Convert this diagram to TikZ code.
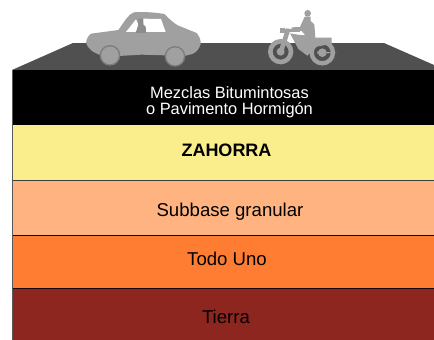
\documentclass[tikz,border=0pt]{standalone}
\usepackage{fontspec}
\setmainfont{Liberation Sans}
\definecolor{roadc}{HTML}{505050}
\definecolor{figc}{HTML}{A0A0A0}
\definecolor{figd}{HTML}{8C8C8C}
\definecolor{yel}{HTML}{FAEE8C}
\definecolor{peach}{HTML}{FFB380}
\definecolor{oran}{HTML}{FF7D33}
\definecolor{brwn}{HTML}{8C261E}
\tikzset{
 lab/.style={font=\fontsize{18.6}{18.6}\selectfont,text=black,align=center,inner sep=0pt,anchor=base},
}
\begin{document}
\begin{tikzpicture}[x=1pt,y=-1pt]
\useasboundingbox (0,0) rectangle (434,340);
\fill[white] (0,0) rectangle (434,340);
\fill[roadc] (12,70) -- (73,43) -- (384,43) -- (434,65) -- (434,70) -- cycle;
% layers
\fill[black] (12,70) rectangle (434,125);
\fill[yel] (12,125) rectangle (434,180);
\fill[peach] (12,180) rectangle (434,235.5);
\fill[oran] (12,235.5) rectangle (434,288.5);
\fill[brwn] (12,288.5) rectangle (434,340);
\draw[line width=0.7pt,black!75] (12,180) -- (434,180);
\draw[line width=0.7pt,black] (12,235.5) -- (434,235.5);
\draw[line width=0.7pt,black!85!brwn] (12,288.5) -- (434,288.5);
\draw[line width=0.7pt,black!65] (12,70) -- (12,340);
% labels
\node[lab,text=white,font=\fontsize{16.4}{16}\selectfont,anchor=center] (asfalto) at (229.5,102) {Mezclas Bitumintosas\\o Pavimento Hormigón};
\node[lab,font=\fontsize{18}{18}\selectfont\bfseries] (zahorra) at (226.5,156.7) {ZAHORRA};
\node[lab] (subbase) at (230,216) {Subbase granular};
\node[lab] (todouno) at (227,265) {Todo Uno};
\node[lab] (tierra) at (226,323.3) {Tierra};
% car
\begin{scope}[shift={(85,8)},scale=1/3]
\fill[figc] (3,104) .. controls (5,92) and (9,84) .. (18,77)
 -- (100,66) .. controls (112,50) and (122,32) .. (135,20)
 .. controls (142,12) and (150,12) .. (160,12)
 .. controls (190,12) and (215,14) .. (238,18)
 .. controls (250,30) and (262,42) .. (278,52)
 -- (335,75) .. controls (343,85) and (348,95) .. (347,108)
 .. controls (343,122) and (335,132) .. (322,138)
 -- (290,146) -- (240,142) -- (170,140) -- (100,144)
 -- (50,142) .. controls (25,135) and (8,122) .. (3,104) -- cycle;
\fill[figd!75!roadc] (75,142) circle (31);
\fill[figc] (75,142) circle (26.5);
\fill[figd!75!roadc] (270,145) circle (31);
\fill[figc] (270,145) circle (26.5);
\fill[white] (123,72) -- (153,34) -- (160,50) -- (155,72) -- cycle;
\fill[white] (175,32) -- (228,33) -- (242,72) -- (183,72) -- (181,56) -- (175,50) -- cycle;
\fill[figd] (160,32) -- (173,32) -- (175,50) -- (182,56) -- (183,75) -- (152,75) -- (160,50) -- cycle;
\end{scope}
% motorbike
\begin{scope}[shift={(260,5)},scale=1/3]
\draw[figc,line width=4.6pt] (62,140) circle (31);
\draw[figc,line width=4.3pt] (187,143) circle (32);
\fill[figc] (62,140) circle (12);
\fill[figc] (187,143) circle (13);
\fill[figc] (172,139) -- (232,143) -- (172,147) -- cycle;
\fill[figc] (56,138) -- (78,70) -- (92,72) -- (70,140) -- cycle;
\fill[figc] (60,68) rectangle (75,85);
\fill[figc] (72,72) -- (120,72) -- (120,82) -- (72,82) -- cycle;
\fill[figc] (90,85) -- (165,98) -- (215,98) -- (215,116) -- (170,125) -- (142,152) -- (115,132) -- cycle;
\fill[figc] (143,25) circle (10);
\fill[figc] (134,35) -- (152,35) -- (152,48) -- (163,58) -- (166,98) -- (155,108) -- (110,106) -- (108,92) -- (135,90) -- (125,78) -- (95,75) -- (95,67) -- (120,66) -- cycle;
\end{scope}
\end{tikzpicture}
\end{document}
